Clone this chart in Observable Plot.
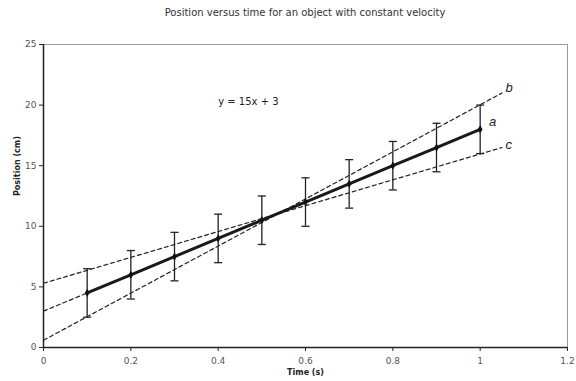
<!DOCTYPE html>
<html><head><meta charset="utf-8">
<script src="https://cdn.jsdelivr.net/npm/d3@7"></script>
<script src="https://cdn.jsdelivr.net/npm/@observablehq/plot@0.6"></script>
<style>
body{margin:0;background:#fff;font-family:"DejaVu Sans",Verdana,sans-serif;}
#title{height:30px;width:576px;position:relative;}
#title span{position:absolute;left:305px;top:7px;transform:translateX(-50%);font-size:10px;color:#333;white-space:nowrap;}
</style></head>
<body>
<div id="title"><span>Position versus time for an object with constant velocity</span></div>
<div id="chart"></div>
<script>
const times = [0.1,0.2,0.3,0.4,0.5,0.6,0.7,0.8,0.9,1.0];
const positions = [4.5,6,7.5,9,10.5,12,13.5,15,16.5,18];
const errors = [2,2,2,2,2,2,2,2,2,2];
const xTicks = [0,0.2,0.4,0.6,0.8,1,1.2];
const yTicks = [0,5,10,15,20,25];
const lineAX = [0,1.0], lineAY = [3,18];
const lineBX = [0,1.05], lineBY = [0.6,21.0];
const lineCX = [0,1.05], lineCY = [5.3,16.5];
const labels = ["a","b","c"];
const labelX = [1.02,1.058,1.058];
const labelY = [18.6,21.4,16.7];
const equation = "y = 15x + 3";
const eqX = [0.4], eqY = [20.3];

const pts = times.map((t,i)=>({t, p:positions[i], lo:positions[i]-errors[i], hi:positions[i]+errors[i]}));
const mk = (xs,ys,name)=>xs.map((x,i)=>({x,y:ys[i],name}));
const dashed = [...mk(lineAX,lineAY,"a"),...mk(lineBX,lineBY,"b"),...mk(lineCX,lineCY,"c")];
const labs = labels.map((l,i)=>({l,x:labelX[i],y:labelY[i]}));
const cap = {draw(ctx,size){const r=Math.sqrt(size/Math.PI);ctx.moveTo(-r,0);ctx.lineTo(r,0);}};

const chart = Plot.plot({
  width:576, height:351,
  marginTop:14, marginBottom:34, marginLeft:43, marginRight:9,
  style:{fontFamily:"DejaVu Sans, Verdana, sans-serif", fontSize:"9px", color:"#444", background:"#fff"},
  x:{domain:[0,1.2], ticks:xTicks, tickFormat:d=>String(d), label:null, tickSize:4},
  y:{domain:[0,25], ticks:yTicks, tickFormat:d=>String(d), label:null, tickSize:4},
  marks:[
    Plot.frame({stroke:"#999", strokeWidth:1}),
    Plot.axisX({ticks:xTicks, tickFormat:d=>String(d), tickSize:4, tickPadding:6, stroke:"#222", fill:"#555", label:null}),
    Plot.axisY({ticks:yTicks, tickFormat:d=>String(d), tickSize:4, tickPadding:3, stroke:"#222", fill:"#555", label:null}),
    Plot.ruleX([0],{stroke:"#222", strokeWidth:1.5}),
    Plot.ruleY([0],{stroke:"#222", strokeWidth:1.5}),
    Plot.line(dashed,{x:"x", y:"y", z:"name", stroke:"#222", strokeWidth:1.2, strokeDasharray:"4,3"}),
    Plot.ruleX(pts,{x:"t", y1:"lo", y2:"hi", stroke:"#222", strokeWidth:1.3}),
    Plot.dot(pts,{x:"t", y:"lo", symbol:cap, r:4, stroke:"#222", strokeWidth:1.3}),
    Plot.dot(pts,{x:"t", y:"hi", symbol:cap, r:4, stroke:"#222", strokeWidth:1.3}),
    Plot.line(pts,{x:"t", y:"p", stroke:"#1a1a1a", strokeWidth:3}),
    Plot.dot(pts,{x:"t", y:"p", symbol:"diamond", r:2.5, fill:"#111", stroke:"none"}),
    Plot.text(labs,{x:"x", y:"y", text:"l", textAnchor:"start", fontStyle:"italic", fontSize:13, fill:"#222", fontFamily:"Liberation Sans, sans-serif"}),
    Plot.text([equation],{x:eqX, y:eqY, text:d=>d, textAnchor:"start", fontSize:10, fill:"#222"}),
    Plot.text(["Time (s)"],{frameAnchor:"bottom", dy:27, text:d=>d, fontWeight:"bold", fontSize:8, fill:"#222"}),
    Plot.text(["Position (cm)"],{frameAnchor:"left", dx:-26, rotate:-90, text:d=>d, fontWeight:"bold", fontSize:8, fill:"#222"})
  ]
});
document.getElementById("chart").appendChild(chart);
</script>
</body></html>
